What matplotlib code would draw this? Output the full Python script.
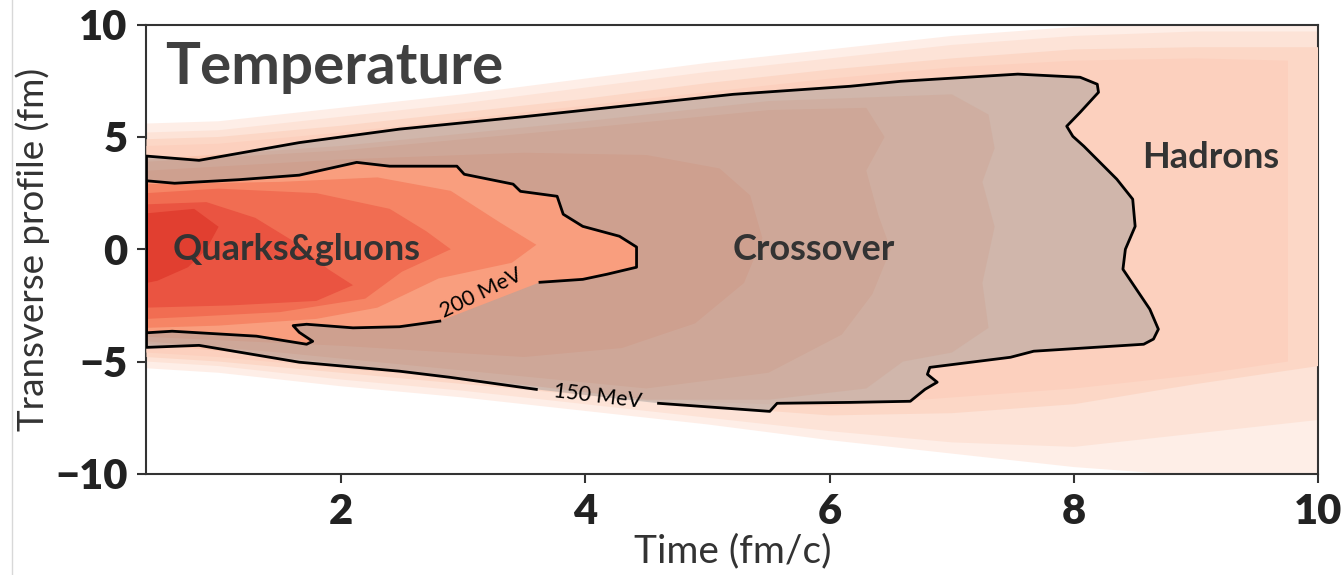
import numpy as np
import matplotlib.pyplot as plt
from matplotlib.lines import Line2D

plt.rcParams['font.family'] = ['Lato', 'DejaVu Sans']

# outer faint halo / hadron bands, sampled along time (fm/c)
halo_t = [0.41, 1, 2, 3, 4, 5, 6, 7, 8, 9, 10]
halo0_up = [5.6, 5.7, 6.3, 6.9, 7.6, 8.3, 8.9, 9.5, 9.9, 10.1, 10.1]
halo0_lo = [-5.3, -5.5, -6.1, -6.6, -7.2, -7.8, -8.5, -9.1, -9.7, -10.1, -10.1]
halo1_up = [5.2, 5.3, 5.9, 6.5, 7.2, 7.9, 8.5, 9.1, 9.5, 9.7, 9.7]
halo1_lo = [-5.0, -5.2, -5.8, -6.3, -6.9, -7.5, -8.1, -8.6, -8.8, -8.2, -7.6]
halo2_up = [4.9, 5.0, 5.5, 6.1, 6.7, 7.4, 8.0, 8.5, 8.9, 9.0, 9.0]
halo2_lo = [-4.8, -5.0, -5.5, -6.0, -6.5, -7.0, -7.4, -7.3, -6.9, -6.0, -5.2]
hadron_t = [0.41, 1, 2, 3, 4, 5, 6, 7, 8, 9, 9.75]
hadron_up = [4.6, 4.7, 5.2, 5.8, 6.4, 7.0, 7.6, 8.1, 8.4, 8.5, 8.4]
hadron_lo = [-4.6, -4.8, -5.3, -5.8, -6.3, -6.8, -7.0, -6.6, -6.2, -5.6, -5.0]

# 150 MeV isotherm (closed, clockwise from upper left)
c150_t = [0.41, 0.84, 1.66, 2.48, 3.49, 5.21, 6.17, 6.58, 7.54, 8.05, 8.19, 8.2, 8.05,
          7.94, 7.99, 8.08, 8.35, 8.48, 8.5, 8.42, 8.4, 8.62, 8.69, 8.65, 8.57, 7.67,
          7.48, 6.82, 6.8, 6.88, 6.78, 6.66, 6.17, 5.57, 5.51, 4.6, 3.6, 2.89, 2.48,
          1.66, 0.84, 0.41]
c150_y = [4.15, 3.96, 4.75, 5.35, 5.9, 6.9, 7.26, 7.48, 7.8, 7.66, 7.35, 6.99, 6.1,
          5.48, 5.03, 4.59, 3.12, 2.23, 1.02, 0.0, -0.89, -2.67, -3.56, -4.0, -4.23, -4.54,
          -4.81, -5.26, -5.57, -5.92, -6.24, -6.77, -6.82, -6.86, -7.22, -6.86, -6.24, -5.7,
          -5.43, -5.03, -4.28, -4.37]

# 200 MeV isotherm (closed, clockwise from upper left)
c200_t = [0.41, 0.64, 1.17, 1.66, 2.13, 2.4, 2.95, 3.01, 3.41, 3.47, 3.77, 3.82, 3.98,
          4.28, 4.42, 4.42, 4.18, 3.98, 3.63, 2.81, 2.48, 2.1, 1.72, 1.61, 1.66, 1.77,
          1.72, 1.31, 0.62, 0.41]
c200_y = [3.05, 2.94, 3.1, 3.3, 3.87, 3.7, 3.7, 3.34, 2.9, 2.58, 2.36, 1.56, 1.02,
          0.58, 0.1, -0.8, -1.11, -1.34, -1.47, -3.2, -3.45, -3.5, -3.34, -3.4, -3.7,
          -4.1, -4.23, -3.87, -3.65, -3.72]

# temperature bands inside the crossover zone (seen through the grey veil)
cross_a = [(0.41, 4.0), (2, 4.6), (4, 5.7), (5.5, 6.6), (7.0, 6.9), (7.3, 6.0), (7.35, 4.5),
           (7.25, 3.0), (7.35, 1.0), (7.25, -1.5), (7.3, -3.5), (7.0, -4.6), (6.6, -5.0),
           (6.3, -6.2), (5.5, -6.7), (4.5, -6.7), (3.0, -5.7), (1.5, -4.8), (0.41, -4.2)]
cross_b = [(0.41, 3.9), (2, 4.4), (4, 5.4), (5.5, 6.2), (6.3, 6.3), (6.45, 5.0), (6.3, 3.5),
           (6.4, 1.5), (6.5, 0.0), (6.35, -2.0), (6.1, -3.8), (5.5, -5.5), (4.5, -6.2),
           (3.0, -5.4), (1.5, -4.6), (0.41, -4.1)]
cross_c = [(0.41, 3.5), (2, 4.0), (3.5, 4.3), (4.5, 4.2), (5.1, 3.6), (5.35, 2.4), (5.45, 0.5),
           (5.3, -1.5), (4.9, -3.3), (4.3, -4.4), (3.5, -4.8), (2.0, -4.3), (0.41, -3.9)]

# hot core bands (quark-gluon plasma)
core_a = [(0.41, 2.9), (1.5, 3.0), (2.3, 3.2), (2.9, 2.6), (3.3, 1.2), (3.6, 0.2), (3.4, -0.6),
          (2.8, -1.3), (2.3, -2.6), (1.8, -3.1), (1.0, -3.4), (0.41, -3.5)]
core_b = [(0.41, 2.5), (1.0, 2.7), (1.8, 2.5), (2.4, 1.8), (2.7, 0.8), (2.9, 0.0), (2.5, -1.0),
          (2.2, -2.2), (1.5, -2.8), (0.8, -3.0), (0.41, -3.1)]
core_c = [(0.41, 2.0), (0.9, 2.1), (1.3, 1.4), (1.6, 0.4), (1.9, -0.9), (2.1, -1.6),
          (1.8, -2.3), (1.1, -2.5), (0.41, -2.6)]
core_d = [(0.41, 1.6), (0.8, 1.8), (1.0, 1.0), (0.9, 0.0), (0.75, -0.8), (0.5, -1.4),
          (0.41, -1.5)]

fig, ax = plt.subplots(figsize=(13.44, 5.75), dpi=100)
fig.subplots_adjust(left=0.109, right=0.981, bottom=0.176, top=0.957)


def band(t, up, lo, color, z):
    ax.fill(np.r_[t, t[::-1]], np.r_[up, lo[::-1]], color=color, lw=0, zorder=z)


def poly(pts, color, z, **kw):
    p = np.array(pts)
    ax.fill(p[:, 0], p[:, 1], color=color, lw=0, zorder=z, **kw)


band(halo_t, halo0_up, halo0_lo, '#feeee7', 1)
band(halo_t, halo1_up, halo1_lo, '#fde3d7', 2)
band(halo_t, halo2_up, halo2_lo, '#fcd7c6', 3)
band(hadron_t, hadron_up, hadron_lo, '#fcd0be', 4)

poly(cross_a, '#fbc4ad', 5)
poly(cross_b, '#f9b89f', 6)
poly(cross_c, '#f8ac90', 7)

# grey veil over the crossover zone
ax.fill(c150_t, c150_y, color='#8f8f8f', alpha=0.4, lw=0, zorder=8)

ax.fill(c200_t, c200_y, color='#f99e7e', lw=0, zorder=9)
poly(core_a, '#f68565', 10)
poly(core_b, '#f16d52', 11)
poly(core_c, '#ea5441', 12)
poly(core_d, '#e13f30', 13)

# isotherm lines, broken where the labels sit
g150 = 35
ax.plot(c150_t[g150 + 1:] + c150_t[:g150 + 1], c150_y[g150 + 1:] + c150_y[:g150 + 1],
        color='black', lw=2, zorder=20)
g200 = 18
ax.plot(c200_t[g200 + 1:] + c200_t[:g200 + 1], c200_y[g200 + 1:] + c200_y[:g200 + 1],
        color='black', lw=2, zorder=20)
ax.text(4.1, -6.55, '150 MeV', rotation=-7, fontsize=15.5, ha='center', va='center', zorder=21)
ax.text(3.15, -1.96, '200 MeV', rotation=26, fontsize=15.5, ha='center', va='center', zorder=21)

ax.text(0.56, 8.1, 'Temperature', fontsize=42, fontweight='bold', color='#404040',
        ha='left', va='center', zorder=21)
ax.text(0.62, 0.0, 'Quarks&gluons', fontsize=26, fontweight='bold', color='#333333',
        ha='left', va='center', zorder=21)
ax.text(5.21, 0.0, 'Crossover', fontsize=26, fontweight='bold', color='#333333',
        ha='left', va='center', zorder=21)
ax.text(8.56, 4.1, 'Hadrons', fontsize=26, fontweight='bold', color='#333333',
        ha='left', va='center', zorder=21)

ax.set_xlim(0.41, 10)
ax.set_ylim(-10, 10)
ax.set_xticks([2, 4, 6, 8, 10])
ax.set_yticks([-10, -5, 0, 5, 10])
ax.tick_params(labelsize=30, width=1.5, length=6.5, pad=7, color='#333333',
               labelcolor='#222222')
for lab in ax.get_xticklabels() + ax.get_yticklabels():
    lab.set_fontweight('heavy')
for s in ax.spines.values():
    s.set_color('#333333')
    s.set_linewidth(1.5)
ax.set_xlabel('Time (fm/c)', fontsize=28, color='#333333', labelpad=2)
ax.set_ylabel('Transverse profile (fm)', fontsize=26.5, color='#333333', labelpad=4)

fig.add_artist(Line2D([0.009, 0.009], [0.0, 1.0], color='#d8d8d8', lw=1))

fig.savefig('out.png', dpi=100)
